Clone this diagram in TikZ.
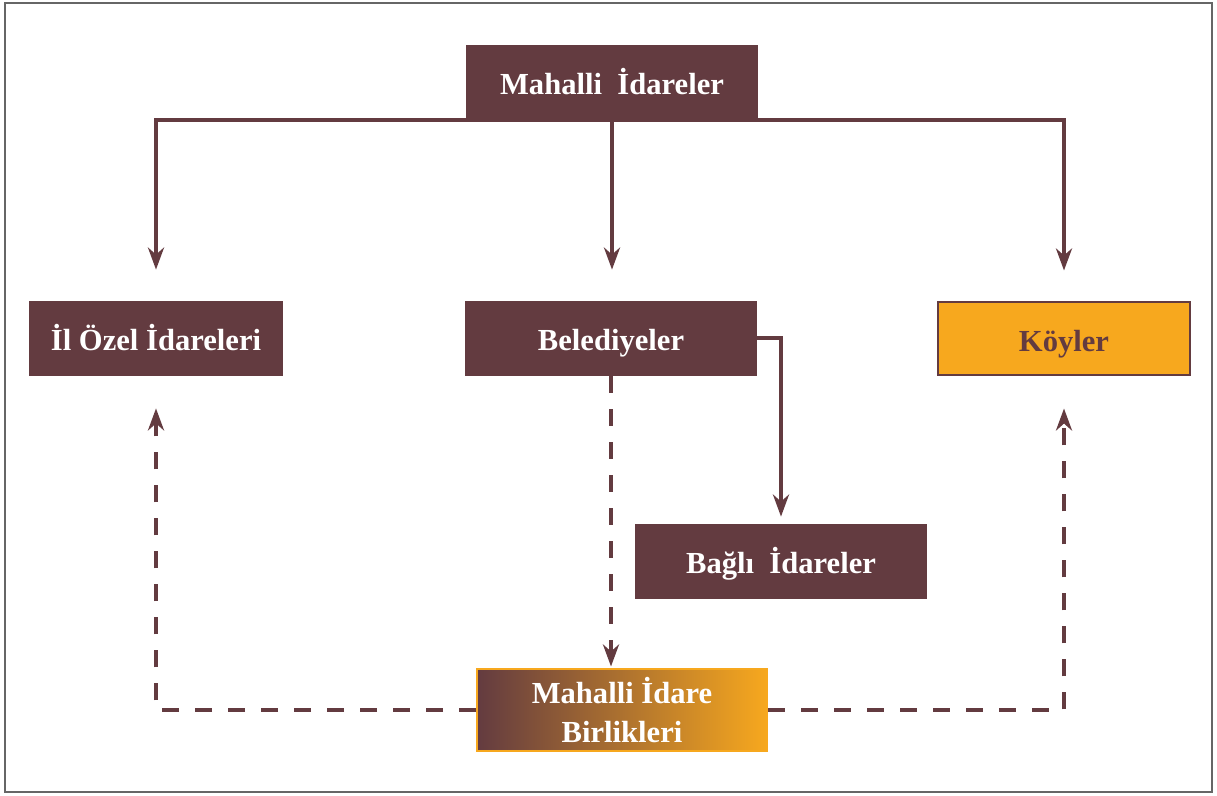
\documentclass[tikz,border=0pt]{standalone}
\usepackage{fontspec}
\setmainfont{Liberation Serif}
\usetikzlibrary{arrows.meta, positioning}

\definecolor{maroon}{HTML}{633B40}
\definecolor{amber}{HTML}{F7A81E}

\begin{document}
\begin{tikzpicture}[x=0.5pt, y=-0.5pt,
  unit/.style={rectangle, fill=maroon, text=white, inner sep=0pt,
    minimum width=146pt, minimum height=37.5pt, align=center,
    text height=12.5pt, text depth=0pt,
    font=\fontsize{15.3}{19.5}\selectfont\bfseries},
  link/.style={draw=maroon, line width=2pt,
    -{Stealth[length=11pt, width=8pt, inset=3.5pt]}},
  dashlink/.style={link, dash pattern=on 8.5pt off 8pt}]

  % frame of the page
  \useasboundingbox (0,0) rectangle (1217,796);
  \draw [gray!80!black, line width=0.8pt] (5,3) rectangle (1212,792);

  % top level
  \node [unit] (mid) at (612,82.5) {Mahalli \ İdareler};

  % second level
  \node [unit, minimum width=127pt] (ozel) at (156,338.5) {İl Özel İdareleri};
  \node [unit] (bel) at (611,338.5) {Belediyeler};
  \node [unit, minimum width=126pt, minimum height=36.5pt, fill=amber,
    text=maroon, draw=maroon, line width=1pt] (koy) at (1064,339) {Köyler};

  % units tied to municipalities and the unions
  \node [unit] (bagli) at (781,561.5) {Bağlı \ İdareler};
  \node [unit, text height=, text depth=, minimum width=145pt,
    minimum height=41pt, left color=maroon, right color=amber, draw=amber,
    line width=1pt] (birlik) at (622,710.5) {Mahalli İdare\\Birlikleri};

  % solid connections from the top
  \draw [maroon, line width=2pt, line cap=rect]
    (mid.south -| ozel.north) -- (mid.south -| koy.north);
  \draw [link, shorten >=15.5pt] (mid.south -| ozel.north) -- (ozel.north);
  \draw [link, shorten >=15.5pt] (mid.south) -- (mid.south |- bel.north);
  \draw [link, shorten >=15.5pt] (mid.south -| koy.north) -- (koy.north);
  \draw [link, shorten >=3.5pt] (bel.east) -| (bagli.north);

  % dashed connections of the unions
  \draw [dashlink, shorten >=1pt] (bel.south) -- (bel.south |- birlik.north);
  \draw [dashlink, shorten >=16pt] (birlik.west) -| (ozel.south);
  \draw [dashlink, shorten >=16pt] (birlik.east) -| (koy.south);
\end{tikzpicture}
\end{document}
